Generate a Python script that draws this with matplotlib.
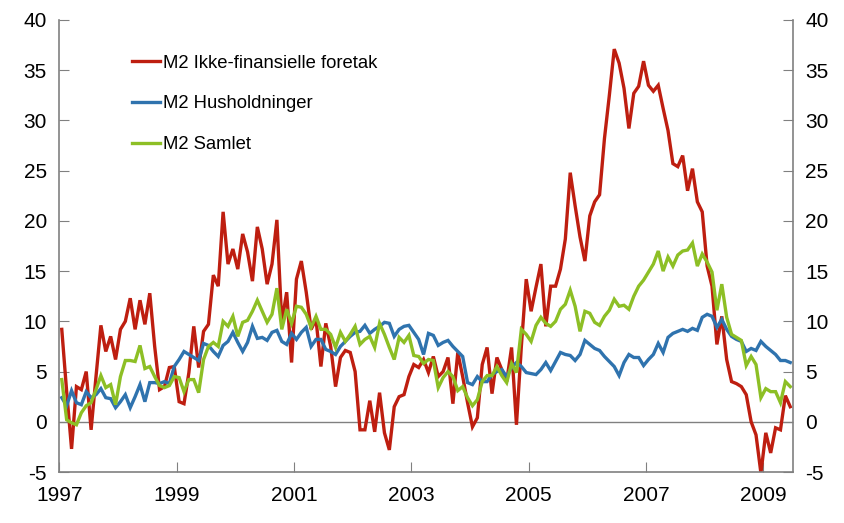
import numpy as np
import matplotlib
matplotlib.use("Agg")
import matplotlib.pyplot as plt

plt.rcParams["font.family"] = ["Liberation Sans", "DejaVu Sans"]
plt.rcParams["axes.unicode_minus"] = False

# monthly growth, Jan 1997 - Jun 2009 (percent, 12-month)
foretak = [
    9.2, 3.0, -2.7, 3.5, 3.2, 5.0, -0.8, 4.5, 9.6, 7.0, 8.5, 6.2,
    9.2, 10.0, 12.3, 9.2, 12.1, 9.7, 12.8, 7.5, 3.2, 3.5, 5.4, 5.5,
    2.0, 1.8, 4.9, 9.5, 5.4, 9.0, 9.7, 14.6, 13.5, 20.9, 15.7, 17.2,
    15.2, 18.7, 16.9, 14.0, 19.4, 17.2, 13.7, 15.7, 20.1, 9.9, 12.9, 5.9,
    14.2, 16.0, 12.9, 9.2, 10.2, 5.5, 9.8, 7.5, 3.5, 6.4, 7.1, 6.9,
    5.0, -0.8, -0.8, 2.1, -1.0, 2.9, -1.1, -2.8, 1.5, 2.5, 2.7, 4.5,
    5.7, 5.4, 6.2, 4.9, 6.5, 4.5, 5.0, 6.4, 1.8, 6.9, 4.5, 1.9,
    -0.5, 0.4, 5.7, 7.4, 2.8, 6.4, 5.2, 4.0, 7.4, -0.3, 7.5, 14.2,
    11.0, 13.4, 15.7, 9.5, 13.5, 13.5, 15.2, 18.2, 24.8, 21.5, 18.4, 16.0,
    20.5, 21.9, 22.6, 28.2, 32.5, 37.1, 35.7, 33.2, 29.2, 32.7, 33.4, 35.9,
    33.5, 32.9, 33.5, 31.2, 29.0, 25.7, 25.4, 26.5, 23.0, 25.2, 21.9, 20.9,
    15.5, 13.5, 7.7, 10.5, 6.2, 4.0, 3.8, 3.5, 2.7, 0.0, -1.3, -5.1,
    -1.1, -3.1, -0.6, -0.8, 2.6, 1.5,
]
husholdninger = [
    2.4, 1.6, 3.1, 1.9, 1.7, 3.0, 2.4, 2.7, 3.3, 2.4, 2.3, 1.4,
    2.0, 2.7, 1.4, 2.5, 3.7, 2.0, 3.9, 3.9, 3.8, 4.0, 3.8, 5.5,
    6.2, 7.0, 6.7, 6.4, 6.1, 7.8, 7.6, 7.0, 6.5, 7.6, 8.0, 8.9,
    7.9, 7.0, 7.9, 9.5, 8.3, 8.4, 8.1, 8.9, 9.1, 8.0, 7.7, 8.8,
    8.2, 8.9, 9.4, 7.5, 8.2, 8.2, 7.2, 7.0, 6.7, 7.5, 8.0, 8.5,
    8.9, 9.0, 9.6, 8.8, 9.2, 9.5, 9.9, 9.8, 8.5, 9.2, 9.5, 9.6,
    8.9, 8.2, 6.7, 8.8, 8.6, 7.6, 7.9, 8.1, 7.5, 7.0, 6.5, 3.9,
    3.7, 4.5, 4.0, 4.0, 4.7, 5.0, 5.2, 4.5, 5.4, 5.9, 5.5, 4.9,
    4.8, 4.7, 5.2, 5.9, 5.1, 6.0, 6.9, 6.7, 6.6, 6.1, 6.7, 8.1,
    7.7, 7.3, 7.1, 6.5, 6.0, 5.5, 4.6, 5.9, 6.7, 6.4, 6.4, 5.6,
    6.2, 6.7, 7.8, 6.9, 8.4, 8.8, 9.0, 9.2, 9.0, 9.3, 9.1, 10.4,
    10.7, 10.5, 9.4, 10.2, 9.2, 8.5, 8.2, 8.0, 7.0, 7.3, 7.1, 8.0,
    7.5, 7.1, 6.7, 6.1, 6.1, 5.9,
]
samlet = [
    4.2, 0.2, -0.1, -0.3, 0.9, 1.6, 1.9, 3.2, 4.6, 3.4, 3.7, 1.7,
    4.5, 6.1, 6.1, 6.0, 7.6, 5.3, 5.5, 4.5, 3.6, 3.4, 3.6, 4.5,
    4.4, 3.0, 4.2, 4.2, 2.9, 6.2, 7.5, 7.9, 7.5, 10.0, 9.5, 10.5,
    8.5, 9.9, 10.1, 11.0, 12.1, 11.0, 9.9, 10.7, 13.3, 9.2, 11.2, 9.8,
    11.5, 11.4, 10.7, 9.4, 10.5, 9.2, 9.2, 8.7, 7.4, 8.9, 8.0, 8.7,
    9.5, 7.7, 8.2, 8.5, 7.4, 9.8, 8.7, 7.4, 6.2, 8.4, 7.9, 8.6,
    6.6, 6.5, 5.8, 6.2, 6.1, 3.4, 4.4, 5.0, 4.5, 3.1, 3.5, 2.4,
    1.6, 2.2, 4.0, 4.6, 4.6, 5.5, 4.6, 3.9, 5.8, 4.9, 9.2, 8.7,
    8.0, 9.6, 10.4, 9.8, 9.5, 10.0, 11.2, 11.7, 13.1, 11.5, 9.0, 11.0,
    10.8, 9.9, 9.6, 10.5, 11.1, 12.2, 11.5, 11.6, 11.2, 12.5, 13.5, 14.1,
    14.9, 15.7, 17.0, 15.0, 16.4, 15.5, 16.6, 17.0, 17.1, 17.8, 15.5, 16.7,
    15.9, 14.9, 11.1, 13.7, 10.4, 8.7, 8.4, 8.1, 5.6, 6.5, 5.7, 2.4,
    3.3, 3.0, 3.0, 1.9, 4.0, 3.5,
]
labels = ["M2 Ikke-finansielle foretak", "M2 Husholdninger", "M2 Samlet"]
colors = ["#BE1E10", "#2F73AE", "#8DBF25"]
year_labels = ["1997", "1999", "2001", "2003", "2005", "2007", "2009"]

n = len(foretak)
x = np.arange(n) + 0.5  # each month sits in the middle of its slot

fig = plt.figure(figsize=(8.44, 5.23), dpi=100)
ax = fig.add_axes([0.0703, 0.0975, 0.8689, 0.8643])

for vals, lab, c in zip([foretak, husholdninger, samlet], labels, colors):
    ax.plot(x, vals, color=c, lw=2.4, label=lab, solid_joinstyle="miter")

ax.axhline(0, color="#808080", lw=1, zorder=0)

ax.set_xlim(0, n)
ax.set_ylim(-5, 40)
ax.set_yticks(np.arange(-5, 41, 5))
ax.set_xticks(np.arange(0, n, 24))
ax.set_xticklabels(year_labels)

grey = "#808080"
for s in ["left", "bottom", "right"]:
    ax.spines[s].set_color(grey)
    ax.spines[s].set_linewidth(1.2)
ax.spines["top"].set_visible(False)

ax.tick_params(axis="both", direction="in", length=7, color=grey, labelsize=15)
ax.tick_params(axis="x", pad=10)
ax.tick_params(axis="y", pad=9)

ax2 = ax.twinx()
ax2.set_ylim(ax.get_ylim())
ax2.set_yticks(ax.get_yticks())
ax2.tick_params(axis="y", direction="in", length=7, color=grey, labelsize=15, pad=9)
for s in ax2.spines.values():
    s.set_visible(False)

ax.legend(
    loc="upper left",
    bbox_to_anchor=(0.099, 0.923),
    frameon=False,
    fontsize=13.3,
    handlelength=1.5,
    handletextpad=0.2,
    labelspacing=1.28,
    borderpad=0,
    borderaxespad=0,
)

fig.savefig("out.png", dpi=100)
